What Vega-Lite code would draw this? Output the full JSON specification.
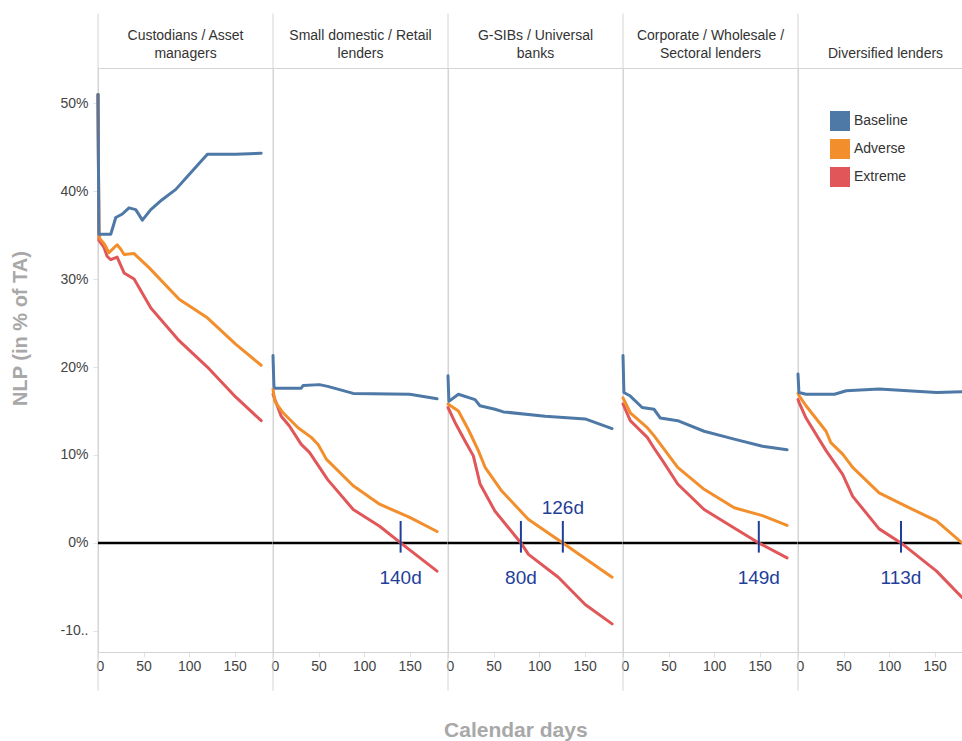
{
  "$schema": "https://vega.github.io/schema/vega-lite/v6.json",
  "padding": {"left": 10, "top": 12, "right": 0, "bottom": 0},
  "background": "white",
  "bounds": "flush",
  "spacing": 0,
  "title": {"text": "Calendar days", "orient": "bottom", "anchor": "middle", "font": "Liberation Sans", "fontSize": 21, "fontWeight": "bold", "color": "#a8a8a8", "offset": 28, "dx": 23},
  "data": {"values": [
    {"kind":"series","group":"Custodians / Asset managers","scenario":"Extreme","day":0,"nlp":51},
    {"kind":"series","group":"Custodians / Asset managers","scenario":"Extreme","day":1,"nlp":34.4},
    {"kind":"series","group":"Custodians / Asset managers","scenario":"Extreme","day":6.6,"nlp":33.6},
    {"kind":"series","group":"Custodians / Asset managers","scenario":"Extreme","day":10,"nlp":32.6},
    {"kind":"series","group":"Custodians / Asset managers","scenario":"Extreme","day":14,"nlp":32.2},
    {"kind":"series","group":"Custodians / Asset managers","scenario":"Extreme","day":21,"nlp":32.5},
    {"kind":"series","group":"Custodians / Asset managers","scenario":"Extreme","day":28.6,"nlp":30.7},
    {"kind":"series","group":"Custodians / Asset managers","scenario":"Extreme","day":39.6,"nlp":30.0},
    {"kind":"series","group":"Custodians / Asset managers","scenario":"Extreme","day":58,"nlp":26.7},
    {"kind":"series","group":"Custodians / Asset managers","scenario":"Extreme","day":89,"nlp":23.0},
    {"kind":"series","group":"Custodians / Asset managers","scenario":"Extreme","day":120,"nlp":20.0},
    {"kind":"series","group":"Custodians / Asset managers","scenario":"Extreme","day":151,"nlp":16.6},
    {"kind":"series","group":"Custodians / Asset managers","scenario":"Extreme","day":179,"nlp":13.9},
    {"kind":"series","group":"Custodians / Asset managers","scenario":"Adverse","day":0,"nlp":51},
    {"kind":"series","group":"Custodians / Asset managers","scenario":"Adverse","day":1,"nlp":35.3},
    {"kind":"series","group":"Custodians / Asset managers","scenario":"Adverse","day":2,"nlp":34.6},
    {"kind":"series","group":"Custodians / Asset managers","scenario":"Adverse","day":7,"nlp":34.0},
    {"kind":"series","group":"Custodians / Asset managers","scenario":"Adverse","day":12,"nlp":33.0},
    {"kind":"series","group":"Custodians / Asset managers","scenario":"Adverse","day":21,"nlp":33.9},
    {"kind":"series","group":"Custodians / Asset managers","scenario":"Adverse","day":25,"nlp":33.4},
    {"kind":"series","group":"Custodians / Asset managers","scenario":"Adverse","day":28.6,"nlp":32.8},
    {"kind":"series","group":"Custodians / Asset managers","scenario":"Adverse","day":39.6,"nlp":32.9},
    {"kind":"series","group":"Custodians / Asset managers","scenario":"Adverse","day":56,"nlp":31.3},
    {"kind":"series","group":"Custodians / Asset managers","scenario":"Adverse","day":89,"nlp":27.7},
    {"kind":"series","group":"Custodians / Asset managers","scenario":"Adverse","day":120,"nlp":25.6},
    {"kind":"series","group":"Custodians / Asset managers","scenario":"Adverse","day":151,"nlp":22.6},
    {"kind":"series","group":"Custodians / Asset managers","scenario":"Adverse","day":179,"nlp":20.2},
    {"kind":"series","group":"Custodians / Asset managers","scenario":"Baseline","day":0,"nlp":51},
    {"kind":"series","group":"Custodians / Asset managers","scenario":"Baseline","day":1,"nlp":35.1},
    {"kind":"series","group":"Custodians / Asset managers","scenario":"Baseline","day":14,"nlp":35.1},
    {"kind":"series","group":"Custodians / Asset managers","scenario":"Baseline","day":19.5,"nlp":37.0},
    {"kind":"series","group":"Custodians / Asset managers","scenario":"Baseline","day":26.7,"nlp":37.4},
    {"kind":"series","group":"Custodians / Asset managers","scenario":"Baseline","day":34,"nlp":38.1},
    {"kind":"series","group":"Custodians / Asset managers","scenario":"Baseline","day":41.4,"nlp":37.9},
    {"kind":"series","group":"Custodians / Asset managers","scenario":"Baseline","day":48.7,"nlp":36.7},
    {"kind":"series","group":"Custodians / Asset managers","scenario":"Baseline","day":57.9,"nlp":37.9},
    {"kind":"series","group":"Custodians / Asset managers","scenario":"Baseline","day":70,"nlp":39.0},
    {"kind":"series","group":"Custodians / Asset managers","scenario":"Baseline","day":85.4,"nlp":40.2},
    {"kind":"series","group":"Custodians / Asset managers","scenario":"Baseline","day":100,"nlp":41.9},
    {"kind":"series","group":"Custodians / Asset managers","scenario":"Baseline","day":120,"nlp":44.2},
    {"kind":"series","group":"Custodians / Asset managers","scenario":"Baseline","day":151,"nlp":44.2},
    {"kind":"series","group":"Custodians / Asset managers","scenario":"Baseline","day":179,"nlp":44.3},

    {"kind":"series","group":"Small domestic / Retail lenders","scenario":"Extreme","day":0,"nlp":16.9},
    {"kind":"series","group":"Small domestic / Retail lenders","scenario":"Extreme","day":9,"nlp":14.4},
    {"kind":"series","group":"Small domestic / Retail lenders","scenario":"Extreme","day":18,"nlp":13.3},
    {"kind":"series","group":"Small domestic / Retail lenders","scenario":"Extreme","day":31,"nlp":11.2},
    {"kind":"series","group":"Small domestic / Retail lenders","scenario":"Extreme","day":40,"nlp":10.3},
    {"kind":"series","group":"Small domestic / Retail lenders","scenario":"Extreme","day":60,"nlp":7.2},
    {"kind":"series","group":"Small domestic / Retail lenders","scenario":"Extreme","day":88,"nlp":3.8},
    {"kind":"series","group":"Small domestic / Retail lenders","scenario":"Extreme","day":117,"nlp":1.9},
    {"kind":"series","group":"Small domestic / Retail lenders","scenario":"Extreme","day":140,"nlp":0.0},
    {"kind":"series","group":"Small domestic / Retail lenders","scenario":"Extreme","day":180,"nlp":-3.2},
    {"kind":"series","group":"Small domestic / Retail lenders","scenario":"Adverse","day":0,"nlp":17.5},
    {"kind":"series","group":"Small domestic / Retail lenders","scenario":"Adverse","day":2,"nlp":16.1},
    {"kind":"series","group":"Small domestic / Retail lenders","scenario":"Adverse","day":11,"nlp":14.8},
    {"kind":"series","group":"Small domestic / Retail lenders","scenario":"Adverse","day":27.5,"nlp":13.1},
    {"kind":"series","group":"Small domestic / Retail lenders","scenario":"Adverse","day":42,"nlp":12.0},
    {"kind":"series","group":"Small domestic / Retail lenders","scenario":"Adverse","day":49.5,"nlp":11.2},
    {"kind":"series","group":"Small domestic / Retail lenders","scenario":"Adverse","day":58.7,"nlp":9.5},
    {"kind":"series","group":"Small domestic / Retail lenders","scenario":"Adverse","day":88,"nlp":6.5},
    {"kind":"series","group":"Small domestic / Retail lenders","scenario":"Adverse","day":117,"nlp":4.4},
    {"kind":"series","group":"Small domestic / Retail lenders","scenario":"Adverse","day":150,"nlp":2.9},
    {"kind":"series","group":"Small domestic / Retail lenders","scenario":"Adverse","day":180,"nlp":1.3},
    {"kind":"series","group":"Small domestic / Retail lenders","scenario":"Baseline","day":0,"nlp":21.3},
    {"kind":"series","group":"Small domestic / Retail lenders","scenario":"Baseline","day":1,"nlp":17.8},
    {"kind":"series","group":"Small domestic / Retail lenders","scenario":"Baseline","day":2,"nlp":17.6},
    {"kind":"series","group":"Small domestic / Retail lenders","scenario":"Baseline","day":31,"nlp":17.6},
    {"kind":"series","group":"Small domestic / Retail lenders","scenario":"Baseline","day":33,"nlp":17.9},
    {"kind":"series","group":"Small domestic / Retail lenders","scenario":"Baseline","day":51,"nlp":18.0},
    {"kind":"series","group":"Small domestic / Retail lenders","scenario":"Baseline","day":60,"nlp":17.8},
    {"kind":"series","group":"Small domestic / Retail lenders","scenario":"Baseline","day":88,"nlp":17.0},
    {"kind":"series","group":"Small domestic / Retail lenders","scenario":"Baseline","day":150,"nlp":16.9},
    {"kind":"series","group":"Small domestic / Retail lenders","scenario":"Baseline","day":180,"nlp":16.4},

    {"kind":"series","group":"G-SIBs / Universal banks","scenario":"Extreme","day":0,"nlp":15.4},
    {"kind":"series","group":"G-SIBs / Universal banks","scenario":"Extreme","day":7.7,"nlp":13.7},
    {"kind":"series","group":"G-SIBs / Universal banks","scenario":"Extreme","day":18.7,"nlp":11.6},
    {"kind":"series","group":"G-SIBs / Universal banks","scenario":"Extreme","day":27.8,"nlp":9.9},
    {"kind":"series","group":"G-SIBs / Universal banks","scenario":"Extreme","day":35.2,"nlp":6.7},
    {"kind":"series","group":"G-SIBs / Universal banks","scenario":"Extreme","day":51.6,"nlp":3.6},
    {"kind":"series","group":"G-SIBs / Universal banks","scenario":"Extreme","day":80,"nlp":0.0},
    {"kind":"series","group":"G-SIBs / Universal banks","scenario":"Extreme","day":88.3,"nlp":-1.3},
    {"kind":"series","group":"G-SIBs / Universal banks","scenario":"Extreme","day":121,"nlp":-3.9},
    {"kind":"series","group":"G-SIBs / Universal banks","scenario":"Extreme","day":150.5,"nlp":-7.0},
    {"kind":"series","group":"G-SIBs / Universal banks","scenario":"Extreme","day":180,"nlp":-9.2},
    {"kind":"series","group":"G-SIBs / Universal banks","scenario":"Adverse","day":0,"nlp":15.8},
    {"kind":"series","group":"G-SIBs / Universal banks","scenario":"Adverse","day":11.4,"nlp":15.0},
    {"kind":"series","group":"G-SIBs / Universal banks","scenario":"Adverse","day":22.3,"nlp":12.9},
    {"kind":"series","group":"G-SIBs / Universal banks","scenario":"Adverse","day":33.3,"nlp":10.5},
    {"kind":"series","group":"G-SIBs / Universal banks","scenario":"Adverse","day":40.7,"nlp":8.6},
    {"kind":"series","group":"G-SIBs / Universal banks","scenario":"Adverse","day":59,"nlp":5.9},
    {"kind":"series","group":"G-SIBs / Universal banks","scenario":"Adverse","day":88,"nlp":2.7},
    {"kind":"series","group":"G-SIBs / Universal banks","scenario":"Adverse","day":126,"nlp":0.0},
    {"kind":"series","group":"G-SIBs / Universal banks","scenario":"Adverse","day":180,"nlp":-3.9},
    {"kind":"series","group":"G-SIBs / Universal banks","scenario":"Baseline","day":0,"nlp":19.0},
    {"kind":"series","group":"G-SIBs / Universal banks","scenario":"Baseline","day":1,"nlp":16.1},
    {"kind":"series","group":"G-SIBs / Universal banks","scenario":"Baseline","day":11.4,"nlp":16.9},
    {"kind":"series","group":"G-SIBs / Universal banks","scenario":"Baseline","day":29.7,"nlp":16.3},
    {"kind":"series","group":"G-SIBs / Universal banks","scenario":"Baseline","day":35,"nlp":15.6},
    {"kind":"series","group":"G-SIBs / Universal banks","scenario":"Baseline","day":51.6,"nlp":15.2},
    {"kind":"series","group":"G-SIBs / Universal banks","scenario":"Baseline","day":60.8,"nlp":14.9},
    {"kind":"series","group":"G-SIBs / Universal banks","scenario":"Baseline","day":106.6,"nlp":14.4},
    {"kind":"series","group":"G-SIBs / Universal banks","scenario":"Baseline","day":150.5,"nlp":14.1},
    {"kind":"series","group":"G-SIBs / Universal banks","scenario":"Baseline","day":180,"nlp":13.0},

    {"kind":"series","group":"Corporate / Wholesale / Sectoral lenders","scenario":"Extreme","day":0,"nlp":15.8},
    {"kind":"series","group":"Corporate / Wholesale / Sectoral lenders","scenario":"Extreme","day":8,"nlp":13.9},
    {"kind":"series","group":"Corporate / Wholesale / Sectoral lenders","scenario":"Extreme","day":26.6,"nlp":12.0},
    {"kind":"series","group":"Corporate / Wholesale / Sectoral lenders","scenario":"Extreme","day":34,"nlp":10.8},
    {"kind":"series","group":"Corporate / Wholesale / Sectoral lenders","scenario":"Extreme","day":45,"nlp":9.1},
    {"kind":"series","group":"Corporate / Wholesale / Sectoral lenders","scenario":"Extreme","day":60,"nlp":6.7},
    {"kind":"series","group":"Corporate / Wholesale / Sectoral lenders","scenario":"Extreme","day":89,"nlp":3.8},
    {"kind":"series","group":"Corporate / Wholesale / Sectoral lenders","scenario":"Extreme","day":122,"nlp":1.7},
    {"kind":"series","group":"Corporate / Wholesale / Sectoral lenders","scenario":"Extreme","day":149,"nlp":0.0},
    {"kind":"series","group":"Corporate / Wholesale / Sectoral lenders","scenario":"Extreme","day":180,"nlp":-1.7},
    {"kind":"series","group":"Corporate / Wholesale / Sectoral lenders","scenario":"Adverse","day":0,"nlp":16.5},
    {"kind":"series","group":"Corporate / Wholesale / Sectoral lenders","scenario":"Adverse","day":8,"nlp":14.8},
    {"kind":"series","group":"Corporate / Wholesale / Sectoral lenders","scenario":"Adverse","day":26.6,"nlp":13.1},
    {"kind":"series","group":"Corporate / Wholesale / Sectoral lenders","scenario":"Adverse","day":34,"nlp":12.2},
    {"kind":"series","group":"Corporate / Wholesale / Sectoral lenders","scenario":"Adverse","day":60,"nlp":8.6},
    {"kind":"series","group":"Corporate / Wholesale / Sectoral lenders","scenario":"Adverse","day":89,"nlp":6.1},
    {"kind":"series","group":"Corporate / Wholesale / Sectoral lenders","scenario":"Adverse","day":122,"nlp":4.0},
    {"kind":"series","group":"Corporate / Wholesale / Sectoral lenders","scenario":"Adverse","day":153,"nlp":3.1},
    {"kind":"series","group":"Corporate / Wholesale / Sectoral lenders","scenario":"Adverse","day":180,"nlp":2.0},
    {"kind":"series","group":"Corporate / Wholesale / Sectoral lenders","scenario":"Baseline","day":0,"nlp":21.3},
    {"kind":"series","group":"Corporate / Wholesale / Sectoral lenders","scenario":"Baseline","day":1,"nlp":17.1},
    {"kind":"series","group":"Corporate / Wholesale / Sectoral lenders","scenario":"Baseline","day":8,"nlp":16.7},
    {"kind":"series","group":"Corporate / Wholesale / Sectoral lenders","scenario":"Baseline","day":21,"nlp":15.4},
    {"kind":"series","group":"Corporate / Wholesale / Sectoral lenders","scenario":"Baseline","day":34,"nlp":15.2},
    {"kind":"series","group":"Corporate / Wholesale / Sectoral lenders","scenario":"Baseline","day":41,"nlp":14.2},
    {"kind":"series","group":"Corporate / Wholesale / Sectoral lenders","scenario":"Baseline","day":60,"nlp":13.9},
    {"kind":"series","group":"Corporate / Wholesale / Sectoral lenders","scenario":"Baseline","day":89,"nlp":12.7},
    {"kind":"series","group":"Corporate / Wholesale / Sectoral lenders","scenario":"Baseline","day":122,"nlp":11.8},
    {"kind":"series","group":"Corporate / Wholesale / Sectoral lenders","scenario":"Baseline","day":153,"nlp":11.0},
    {"kind":"series","group":"Corporate / Wholesale / Sectoral lenders","scenario":"Baseline","day":180,"nlp":10.6},

    {"kind":"series","group":"Diversified lenders","scenario":"Extreme","day":0,"nlp":16.3},
    {"kind":"series","group":"Diversified lenders","scenario":"Extreme","day":1.5,"nlp":15.9},
    {"kind":"series","group":"Diversified lenders","scenario":"Extreme","day":8.8,"nlp":14.2},
    {"kind":"series","group":"Diversified lenders","scenario":"Extreme","day":30.8,"nlp":10.5},
    {"kind":"series","group":"Diversified lenders","scenario":"Extreme","day":49,"nlp":7.8},
    {"kind":"series","group":"Diversified lenders","scenario":"Extreme","day":60,"nlp":5.3},
    {"kind":"series","group":"Diversified lenders","scenario":"Extreme","day":89,"nlp":1.6},
    {"kind":"series","group":"Diversified lenders","scenario":"Extreme","day":113,"nlp":0.0},
    {"kind":"series","group":"Diversified lenders","scenario":"Extreme","day":152,"nlp":-3.2},
    {"kind":"series","group":"Diversified lenders","scenario":"Extreme","day":180,"nlp":-6.2},
    {"kind":"series","group":"Diversified lenders","scenario":"Adverse","day":0,"nlp":17.0},
    {"kind":"series","group":"Diversified lenders","scenario":"Adverse","day":1.5,"nlp":16.7},
    {"kind":"series","group":"Diversified lenders","scenario":"Adverse","day":8.8,"nlp":15.6},
    {"kind":"series","group":"Diversified lenders","scenario":"Adverse","day":30.8,"nlp":12.7},
    {"kind":"series","group":"Diversified lenders","scenario":"Adverse","day":36,"nlp":11.4},
    {"kind":"series","group":"Diversified lenders","scenario":"Adverse","day":49,"nlp":10.1},
    {"kind":"series","group":"Diversified lenders","scenario":"Adverse","day":60,"nlp":8.6},
    {"kind":"series","group":"Diversified lenders","scenario":"Adverse","day":89,"nlp":5.7},
    {"kind":"series","group":"Diversified lenders","scenario":"Adverse","day":120,"nlp":4.1},
    {"kind":"series","group":"Diversified lenders","scenario":"Adverse","day":152,"nlp":2.5},
    {"kind":"series","group":"Diversified lenders","scenario":"Adverse","day":180,"nlp":0.0},
    {"kind":"series","group":"Diversified lenders","scenario":"Baseline","day":0,"nlp":19.2},
    {"kind":"series","group":"Diversified lenders","scenario":"Baseline","day":1,"nlp":17.1},
    {"kind":"series","group":"Diversified lenders","scenario":"Baseline","day":8.8,"nlp":16.9},
    {"kind":"series","group":"Diversified lenders","scenario":"Baseline","day":40,"nlp":16.9},
    {"kind":"series","group":"Diversified lenders","scenario":"Baseline","day":53,"nlp":17.3},
    {"kind":"series","group":"Diversified lenders","scenario":"Baseline","day":89,"nlp":17.5},
    {"kind":"series","group":"Diversified lenders","scenario":"Baseline","day":152,"nlp":17.1},
    {"kind":"series","group":"Diversified lenders","scenario":"Baseline","day":180,"nlp":17.2},

    {"kind":"cross","group":"Small domestic / Retail lenders","day":140,"label":"140d","pos":"below"},
    {"kind":"cross","group":"G-SIBs / Universal banks","day":80,"label":"80d","pos":"below"},
    {"kind":"cross","group":"G-SIBs / Universal banks","day":126,"label":"126d","pos":"above"},
    {"kind":"cross","group":"Corporate / Wholesale / Sectoral lenders","day":149,"label":"149d","pos":"below"},
    {"kind":"cross","group":"Diversified lenders","day":113,"label":"113d","pos":"below"}
  ]},
  "facet": {
    "column": {
      "field": "group",
      "type": "nominal",
      "sort": ["Custodians / Asset managers", "Small domestic / Retail lenders", "G-SIBs / Universal banks", "Corporate / Wholesale / Sectoral lenders", "Diversified lenders"],
      "title": null,
      "header": {
        "labelOrient": "top",
        "labelExpr": "datum.value == 'Custodians / Asset managers' ? ['Custodians / Asset', 'managers'] : datum.value == 'Small domestic / Retail lenders' ? ['Small domestic / Retail', 'lenders'] : datum.value == 'G-SIBs / Universal banks' ? ['G-SIBs / Universal', 'banks'] : datum.value == 'Corporate / Wholesale / Sectoral lenders' ? ['Corporate / Wholesale /', 'Sectoral lenders'] : datum.value"
      }
    }
  },
  "spec": {
    "width": 175,
    "height": 584,
    "layer": [
      {
        "transform": [{"filter": "datum.kind == 'legendonly'"}],
        "mark": {"type": "square", "filled": true, "opacity": 1},
        "encoding": {
          "x": {"field": "day", "type": "quantitative", "scale": {"domain": [0, 192], "nice": false, "zero": false}, "title": null},
          "y": {"field": "nlp", "type": "quantitative", "scale": {"domain": [-12.4, 54], "nice": false, "zero": false}, "title": "NLP (in % of TA)"},
          "color": {"field": "scenario", "type": "nominal",
            "scale": {"domain": ["Baseline", "Adverse", "Extreme"], "range": ["#4e79a7", "#f28e2b", "#e15759"]},
            "legend": {"title": null, "orient": "none", "legendX": 732, "legendY": 43, "symbolType": "square", "symbolSize": 400, "symbolStrokeWidth": 0, "symbolOpacity": 1, "labelFontSize": 14, "labelColor": "#333333", "labelOffset": 4, "rowPadding": 8}}
        }
      },
      {
        "transform": [{"filter": "datum.kind == 'series' && datum.scenario == 'Baseline' && datum.day == 0"}],
        "mark": {"type": "rule", "color": "#d4d4d4", "strokeWidth": 1},
        "encoding": {
          "x": {"datum": 0, "type": "quantitative", "scale": {"domain": [0, 192], "nice": false, "zero": false}, "title": null},
          "y": {"datum": 60.2, "type": "quantitative", "scale": {"domain": [-12.4, 54], "nice": false, "zero": false}, "title": "NLP (in % of TA)"},
          "y2": {"datum": -16.8}
        }
      },
      {
        "transform": [{"filter": "datum.kind == 'series' && datum.scenario == 'Baseline' && datum.day == 0"}],
        "mark": {"type": "rule", "color": "#000000", "strokeWidth": 2.5},
        "encoding": {
          "y": {"datum": 0, "type": "quantitative", "scale": {"domain": [-12.4, 54], "nice": false, "zero": false}, "title": "NLP (in % of TA)"}
        }
      },
      {
        "transform": [{"filter": "datum.kind == 'series'"}],
        "mark": {"type": "line", "strokeWidth": 3, "strokeJoin": "round", "strokeCap": "round"},
        "encoding": {
          "x": {"field": "day", "type": "quantitative", "scale": {"domain": [0, 192], "nice": false, "zero": false}, "title": null,
            "axis": {"values": [0, 50, 100, 150], "labelFlush": true, "labelFlushOffset": 2, "labelPadding": 2, "tickSize": 5}},
          "y": {"field": "nlp", "type": "quantitative", "scale": {"domain": [-12.4, 54], "nice": false, "zero": false}, "title": "NLP (in % of TA)",
            "axis": {"values": [-10, 0, 10, 20, 30, 40, 50], "labelExpr": "datum.value == -10 ? '-10..' : datum.value + '%'", "labelPadding": 5, "tickSize": 5, "titlePadding": 29, "titleY": 260}},
          "color": {"field": "scenario", "type": "nominal",
            "scale": {"domain": ["Baseline", "Adverse", "Extreme"], "range": ["#4e79a7", "#f28e2b", "#e15759"]},
            "legend": null},
          "order": {"field": "day", "type": "quantitative"}
        }
      },
      {
        "transform": [{"filter": "datum.kind == 'cross'"}],
        "mark": {"type": "rule", "color": "#1f3f9a", "strokeWidth": 2},
        "encoding": {
          "x": {"field": "day", "type": "quantitative", "scale": {"domain": [0, 192], "nice": false, "zero": false}, "title": null},
          "y": {"datum": 2.5, "type": "quantitative", "scale": {"domain": [-12.4, 54], "nice": false, "zero": false}, "title": "NLP (in % of TA)"},
          "y2": {"datum": -1.1}
        }
      },
      {
        "transform": [{"filter": "datum.kind == 'cross' && datum.pos == 'below'"}],
        "mark": {"type": "text", "color": "#1f3f9a", "fontSize": 19, "align": "center", "baseline": "middle"},
        "encoding": {
          "x": {"field": "day", "type": "quantitative", "scale": {"domain": [0, 192], "nice": false, "zero": false}, "title": null},
          "y": {"datum": -4.0, "type": "quantitative", "scale": {"domain": [-12.4, 54], "nice": false, "zero": false}, "title": "NLP (in % of TA)"},
          "text": {"field": "label"}
        }
      },
      {
        "transform": [{"filter": "datum.kind == 'cross' && datum.pos == 'above'"}],
        "mark": {"type": "text", "color": "#1f3f9a", "fontSize": 19, "align": "center", "baseline": "middle"},
        "encoding": {
          "x": {"field": "day", "type": "quantitative", "scale": {"domain": [0, 192], "nice": false, "zero": false}, "title": null},
          "y": {"datum": 4.0, "type": "quantitative", "scale": {"domain": [-12.4, 54], "nice": false, "zero": false}, "title": "NLP (in % of TA)"},
          "text": {"field": "label"}
        }
      }
    ]
  },
  "config": {
    "font": "Liberation Sans",
    "view": {"stroke": "#d4d4d4", "strokeWidth": 1},
    "axis": {"grid": false, "domain": false, "labelFont": "Liberation Sans", "labelFontSize": 14, "labelColor": "#444444", "tickColor": "#e2e2e2", "titleFont": "Liberation Sans", "titleFontSize": 20, "titleColor": "#a8a8a8", "titleFontWeight": "bold"},
    "header": {"labelFont": "Liberation Sans", "labelFontSize": 14, "labelColor": "#333333", "labelBaseline": "bottom", "labelLineHeight": 18, "labelPadding": -7},
    "legend": {"labelFont": "Liberation Sans"}
  }
}
